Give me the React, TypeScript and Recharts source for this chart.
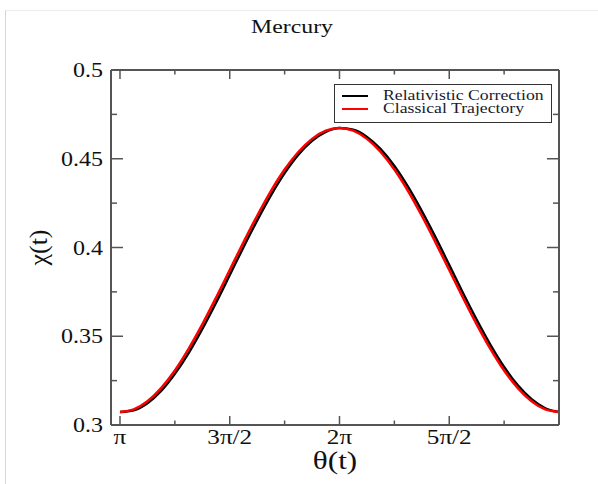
import React from 'react';
import { LineChart, Line, XAxis, YAxis, Legend, Label } from 'recharts';

// theta samples (radians) from pi to 3pi
const THETA = [
  3.1416, 3.3379, 3.5343, 3.7306, 3.927, 4.1233, 4.3197, 4.516, 4.7124,
  4.9087, 5.1051, 5.3014, 5.4978, 5.6941, 5.8905, 6.0868, 6.2832,
  6.4795, 6.6759, 6.8722, 7.0686, 7.2649, 7.4613, 7.6576, 7.854,
  8.0503, 8.2467, 8.443, 8.6394, 8.8357, 9.0321, 9.2284, 9.4248,
];

const RELATIVISTIC = [
  0.3073, 0.3083, 0.3123, 0.3192, 0.3288, 0.3405, 0.3541, 0.3689, 0.3845,
  0.4002, 0.4153, 0.4294, 0.4419, 0.4523, 0.4601, 0.4652, 0.4673,
  0.4663, 0.4623, 0.4554, 0.4459, 0.4341, 0.4205, 0.4057, 0.3901,
  0.3744, 0.3593, 0.3452, 0.3327, 0.3223, 0.3145, 0.3094, 0.3073,
];

const CLASSICAL = [
  0.3073, 0.3088, 0.3134, 0.3208, 0.3307, 0.3429, 0.3567, 0.3717, 0.3873,
  0.4029, 0.4179, 0.4318, 0.4439, 0.4538, 0.4612, 0.4658, 0.4673,
  0.4658, 0.4612, 0.4538, 0.4439, 0.4318, 0.4179, 0.4029, 0.3873,
  0.3717, 0.3567, 0.3429, 0.3307, 0.3208, 0.3134, 0.3088, 0.3073,
];

const X_DOMAIN = [3.013, 9.4248];
const X_TICKS = [3.1416, 3.927, 4.7124, 5.4978, 6.2832, 7.0686, 7.854, 8.6394];
const X_TICK_LABELS = ['π', '', '3π/2', '', '2π', '', '5π/2', ''];
const Y_TICKS = [0.3, 0.325, 0.35, 0.375, 0.4, 0.425, 0.45, 0.475, 0.5];
const Y_TICK_LABELS = ['0.3', '', '0.35', '', '0.4', '', '0.45', '', '0.5'];

const SERIES_NAMES = ['Relativistic Correction', 'Classical Trajectory'];
const SERIES_COLORS = ['#000000', '#ff0000'];

const data = THETA.map((t, i) => ({ theta: t, rel: RELATIVISTIC[i], cls: CLASSICAL[i] }));

const FONT = "'Liberation Serif', 'Times New Roman', serif";
const AXIS = '#555';
const INK = '#111';
const STRETCH = 1.2;

const serif = (size: number) => ({ fontFamily: FONT, fontSize: size, fill: INK });

const BottomTick = (props: any) => {
  const { x, y, payload } = props;
  const label = X_TICK_LABELS[X_TICKS.indexOf(payload.value)] || '';
  const len = label ? 9 : 4.5;
  return (
    <g>
      <line x1={x} y1={y} x2={x} y2={y - len} stroke={AXIS} strokeWidth={1.5} />
      {label && (
        <text transform={`translate(${x},${y + 19}) scale(${STRETCH},1)`} textAnchor="middle"
          fontFamily={FONT} style={serif(21)}>{label}</text>
      )}
    </g>
  );
};

const TopTick = (props: any) => {
  const { x, y, payload } = props;
  const major = !!X_TICK_LABELS[X_TICKS.indexOf(payload.value)];
  return <line x1={x} y1={y} x2={x} y2={y + (major ? 9 : 4.5)} stroke={AXIS} strokeWidth={1.5} />;
};

const LeftTick = (props: any) => {
  const { x, y, payload } = props;
  const label = Y_TICK_LABELS[Y_TICKS.indexOf(payload.value)] || '';
  const len = label ? 12 : 6;
  return (
    <g>
      <line x1={x} y1={y} x2={x + len} y2={y} stroke={AXIS} strokeWidth={1.5} />
      {label && (
        <text transform={`translate(${x - 8},${y + 7}) scale(${STRETCH},1)`} textAnchor="end"
          fontFamily={FONT} style={serif(20)}>{label}</text>
      )}
    </g>
  );
};

const RightTick = (props: any) => {
  const { x, y, payload } = props;
  const major = !!Y_TICK_LABELS[Y_TICKS.indexOf(payload.value)];
  return <line x1={x} y1={y} x2={x - (major ? 12 : 6)} y2={y} stroke={AXIS} strokeWidth={1.5} />;
};

const ChartTitle = (props: any) => {
  const { viewBox } = props;
  const cx = viewBox.x + viewBox.width / 2 - 43;
  return (
    <text transform={`translate(${cx},${viewBox.y - 36}) scale(1.22,1)`} textAnchor="middle"
      fontFamily={FONT} style={serif(19.5)}>Mercury</text>
  );
};

const XTitle = (props: any) => {
  const { viewBox } = props;
  const cx = viewBox.x + viewBox.width / 2;
  return (
    <text transform={`translate(${cx},${viewBox.y + 44}) scale(${STRETCH},1)`} textAnchor="middle"
      fontFamily={FONT} style={serif(26)}>θ(t)</text>
  );
};

const YTitle = (props: any) => {
  const { viewBox } = props;
  const cy = viewBox.y + viewBox.height / 2;
  return (
    <text transform={`translate(47,${cy}) rotate(-90)`} textAnchor="middle"
      fontFamily={FONT} style={serif(26)}>χ(t)</text>
  );
};

const LegendBox = () => (
  <div style={{ width: 216, height: 37, border: '1.5px solid #333', background: '#fff', position: 'relative', fontFamily: FONT }}>
    {SERIES_NAMES.map((name, i) => (
      <div key={name} style={{ position: 'absolute', left: 6.5, top: 4 + i * 13, height: 13, display: 'flex', alignItems: 'center' }}>
        <div style={{ width: 26, height: 2, background: SERIES_COLORS[i] }} />
        <span style={{ marginLeft: 15, fontSize: 14.5, lineHeight: '13px', transform: 'scaleX(1.22)', transformOrigin: 'left center', whiteSpace: 'nowrap', color: '#1a1a2e' }}>
          {name}
        </span>
      </div>
    ))}
  </div>
);

export default function App() {
  return (
    <div style={{ position: 'absolute', left: 0, top: 0, width: 598, height: 484, background: '#fff' }}>
      <div style={{ position: 'absolute', left: 5, top: 10, width: 593, height: 474, borderLeft: '1px solid #d6d6d6', borderTop: '1px solid #ececec' }} />
      <LineChart width={598} height={484} data={data} margin={{ top: 69, right: 38, bottom: 58, left: 110 }}>
        <XAxis xAxisId="bottom" dataKey="theta" type="number" domain={X_DOMAIN} allowDataOverflow
          ticks={X_TICKS} interval={0} height={1} tickSize={0} tickMargin={0} tickLine={false}
          axisLine={{ stroke: AXIS, strokeWidth: 2 }} tick={<BottomTick />}>
          <Label content={<XTitle />} />
        </XAxis>
        <XAxis xAxisId="top" orientation="top" dataKey="theta" type="number" domain={X_DOMAIN} allowDataOverflow
          ticks={X_TICKS} interval={0} height={1} tickSize={0} tickMargin={0} tickLine={false}
          axisLine={{ stroke: AXIS, strokeWidth: 2 }} tick={<TopTick />}>
          <Label content={<ChartTitle />} />
        </XAxis>
        <YAxis yAxisId="left" type="number" domain={[0.3, 0.5]} allowDataOverflow
          ticks={Y_TICKS} interval={0} width={1} tickSize={0} tickMargin={0} tickLine={false}
          axisLine={{ stroke: AXIS, strokeWidth: 2 }} tick={<LeftTick />}>
          <Label content={<YTitle />} />
        </YAxis>
        <YAxis yAxisId="right" orientation="right" type="number" domain={[0.3, 0.5]} allowDataOverflow
          ticks={Y_TICKS} interval={0} width={1} tickSize={0} tickMargin={0} tickLine={false}
          axisLine={{ stroke: AXIS, strokeWidth: 2 }} tick={<RightTick />} />
        <Legend layout="vertical" align="center" verticalAlign="middle" content={<LegendBox />}
          wrapperStyle={{ left: 334, top: 84, width: 'auto', height: 'auto' }} />
        <Line xAxisId="bottom" yAxisId="left" dataKey="rel" name={SERIES_NAMES[0]} type="monotone"
          stroke={SERIES_COLORS[0]} strokeWidth={2.5} dot={false} isAnimationActive={false} />
        <Line xAxisId="bottom" yAxisId="left" dataKey="cls" name={SERIES_NAMES[1]} type="monotone"
          stroke={SERIES_COLORS[1]} strokeWidth={2.5} dot={false} isAnimationActive={false} />
      </LineChart>
    </div>
  );
}
